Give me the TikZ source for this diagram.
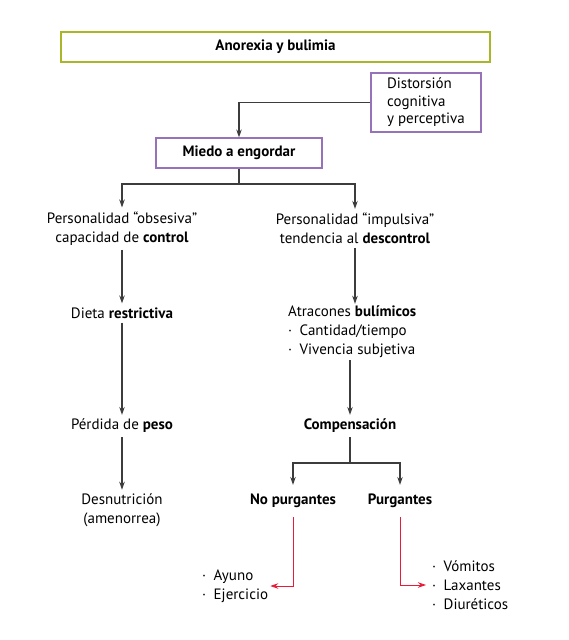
\documentclass[tikz,border=0pt]{standalone}
\usepackage{fontspec}
\setmainfont{PT Sans}
\usetikzlibrary{arrows.meta}
\definecolor{titlegreen}{RGB}{168,182,40}
\definecolor{boxpurple}{RGB}{150,115,185}
\definecolor{linegray}{RGB}{60,60,60}
\definecolor{arrowred}{RGB}{232,28,56}
\begin{document}
\begin{tikzpicture}[x=1pt,y=-1pt,
    every node/.style={font=\fontsize{15}{19}\selectfont,inner sep=4pt},
    framebox/.style={draw=#1,line width=1.2pt,inner sep=0pt},
    txt/.style={align=center},
    listtxt/.style={align=left,anchor=west,inner sep=2pt},
    line/.style={draw=linegray,line width=1.2pt},
    arr/.style={line,-{Stealth[length=8pt,width=5.5pt]}},
    redarr/.style={draw=arrowred,line width=0.9pt,-{Stealth[length=8pt,width=5.5pt]}}]
  \useasboundingbox (0,0) rectangle (569,640);
  % boxes
  \node[framebox=titlegreen,minimum width=429,minimum height=30] (title) at (275.5,47) {\bfseries Anorexia y bulimia};
  \node[framebox=boxpurple,minimum width=110,minimum height=59,font=\fontsize{15}{17.5}\selectfont] (dist) at (426,102.5)
    {\begin{tabular}{@{}l@{}}Distorsión\\cognitiva\\y perceptiva\end{tabular}};
  \node[framebox=boxpurple,minimum width=166,minimum height=30] (miedo) at (239,153) {\bfseries Miedo a engordar};
  % left branch
  \node[txt] (obs) at (122,228.5) {Personalidad “obsesiva”\\capacidad de \textbf{control}};
  \node[txt] (dieta) at (122,313) {Dieta \textbf{restrictiva}};
  \node[txt] (perdida) at (122,426) {Pérdida de \textbf{peso}};
  \node[txt] (desn) at (122,510.5) {Desnutrición\\(amenorrea)};
  % right branch
  \node[txt] (imp) at (355,228.5) {Personalidad “impulsiva”\\tendencia al \textbf{descontrol}};
  \node[listtxt] (atrac) at (286,332) {Atracones \textbf{bulímicos}\\·\enspace Cantidad/tiempo\\·\enspace Vivencia subjetiva};
  \node[txt] (comp) at (350,426) {\bfseries Compensación};
  \node[txt,inner ysep=9pt] (nopurg) at (293,501) {\bfseries No purgantes};
  \node[txt,inner ysep=9pt] (purg) at (400,501) {\bfseries Purgantes};
  \node[listtxt] (ayuno) at (200,586) {·\enspace Ayuno\\·\enspace Ejercicio};
  \node[listtxt,inner sep=6pt] (vomitos) at (426,585) {·\enspace Vómitos\\·\enspace Laxantes\\·\enspace Diuréticos};
  % connectors
  \coordinate (split1) at (239,184);
  \coordinate (split2) at (350,463);
  \draw[arr] (dist.west) -| (miedo.north);
  \draw[line] (miedo.south) -- (split1);
  \draw[arr] (split1) -| (obs.north);
  \draw[arr] (split1) -| (imp.north);
  \draw[arr] (obs.south) -- (dieta.north);
  \draw[arr] (dieta.south) -- (perdida.north);
  \draw[arr] (perdida.south) -- (desn.north);
  \draw[arr] (imp.south) -- (imp.south |- atrac.north);
  \draw[arr] (atrac.south -| comp.north) -- (comp.north);
  \draw[line] (comp.south) -- (split2);
  \draw[arr] (split2) -| (nopurg.north);
  \draw[arr] (split2) -| (purg.north);
  \draw[redarr] (nopurg.south) |- (ayuno.east);
  \draw[redarr] (purg.south) |- (vomitos.west);
\end{tikzpicture}
\end{document}
